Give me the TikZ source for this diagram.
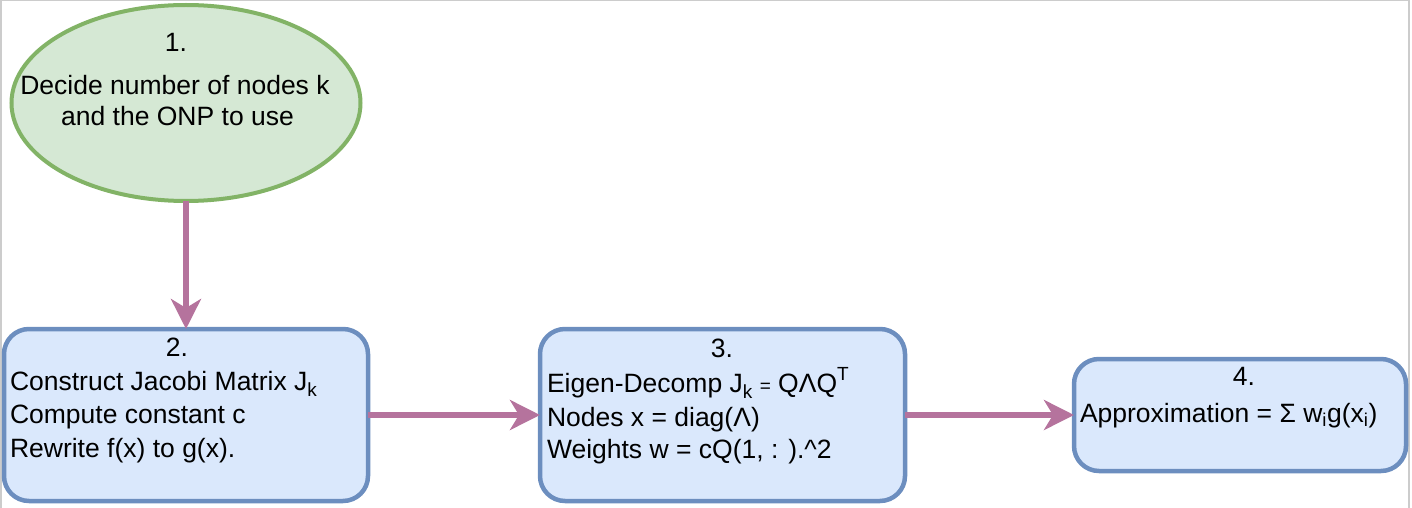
\documentclass[tikz,border=0pt]{standalone}
\usepackage{fontspec}
\setmainfont{Liberation Sans}
\usetikzlibrary{arrows.meta,shapes.geometric}
\definecolor{greenfill}{HTML}{D5E8D4}
\definecolor{greenline}{HTML}{82B366}
\definecolor{bluefill}{HTML}{DAE8FC}
\definecolor{blueline}{HTML}{6C8EBF}
\definecolor{arrowcol}{HTML}{B5739D}
\definecolor{framegray}{HTML}{CCCCCC}
\newcommand{\mysub}[1]{\raisebox{-0.25em}{\fontsize{19}{19}\selectfont #1}}
\newcommand{\mysup}[1]{\raisebox{0.45em}{\fontsize{19}{19}\selectfont #1}}
\begin{document}
\begin{tikzpicture}[x=1pt,y=-1pt,
  every node/.style={inner sep=0pt,outer sep=0pt,font=\fontsize{26.5}{32}\selectfont},
  startshape/.style={ellipse,draw=greenline,fill=greenfill,line width=4pt,minimum width=349pt,minimum height=196pt},
  stepbox/.style={rectangle,rounded corners=25pt,draw=blueline,fill=bluefill,line width=4.5pt},
  txt/.style={anchor=base west},
  ttl/.style={anchor=base},
  flow/.style={draw=arrowcol,line width=6pt,-{Stealth[length=30pt,width=30pt,inset=9pt,fill=arrowcol]}}
]
\useasboundingbox (0,0) rectangle (1412,508);
\draw[framegray,line width=1.5pt] (0.75,508) -- (0.75,0.75) -- (1409,0.75) -- (1409,508);

\node[startshape] (n1) at (186,103) {};
\node[stepbox,minimum width=364pt,minimum height=172pt] (n2) at (186,415) {};
\node[stepbox,minimum width=365pt,minimum height=172pt] (n3) at (722.5,415) {};
\node[stepbox,minimum width=332pt,minimum height=112pt] (n4) at (1240,415) {};

% texts
\node[ttl] (t1a) at (176,52) {1.};
\node[ttl] (t1b) at (175,95) {Decide number of nodes k};
\node[ttl] (t1c) at (177.5,125) {and the ONP to use};

\node[ttl] (t2a) at (177,356) {2.};
\node[txt] (t2b) at (10,390) {Construct Jacobi Matrix J\mysub{k}};
\node[txt] (t2c) at (10,423) {Compute constant c};
\node[txt] (t2d) at (10,457) {Rewrite f(x) to g(x).};

\node[ttl] (t3a) at (722,357) {3.};
\node[txt] (t3b) at (547,392) {Eigen-Decomp J\mysub{k} {\fontsize{19}{19}\selectfont =} QΛQ\mysup{T}};
\node[txt] (t3c) at (547,426) {Nodes x = diag(Λ)};
\node[txt] (t3d) at (547,458) {Weights w = cQ(1, : ).\^{}2};

\node[ttl] (t4a) at (1244,385) {4.};
\node[txt] (t4b) at (1080,422) {Approximation = Σ w\textsubscript{i}g(x\textsubscript{i})};

% connectors
\draw[flow] (n1.south) -- (n2.north);
\draw[flow] (n2.east) -- (n3.west);
\draw[flow] (n3.east) -- (n4.west);
\end{tikzpicture}
\end{document}
